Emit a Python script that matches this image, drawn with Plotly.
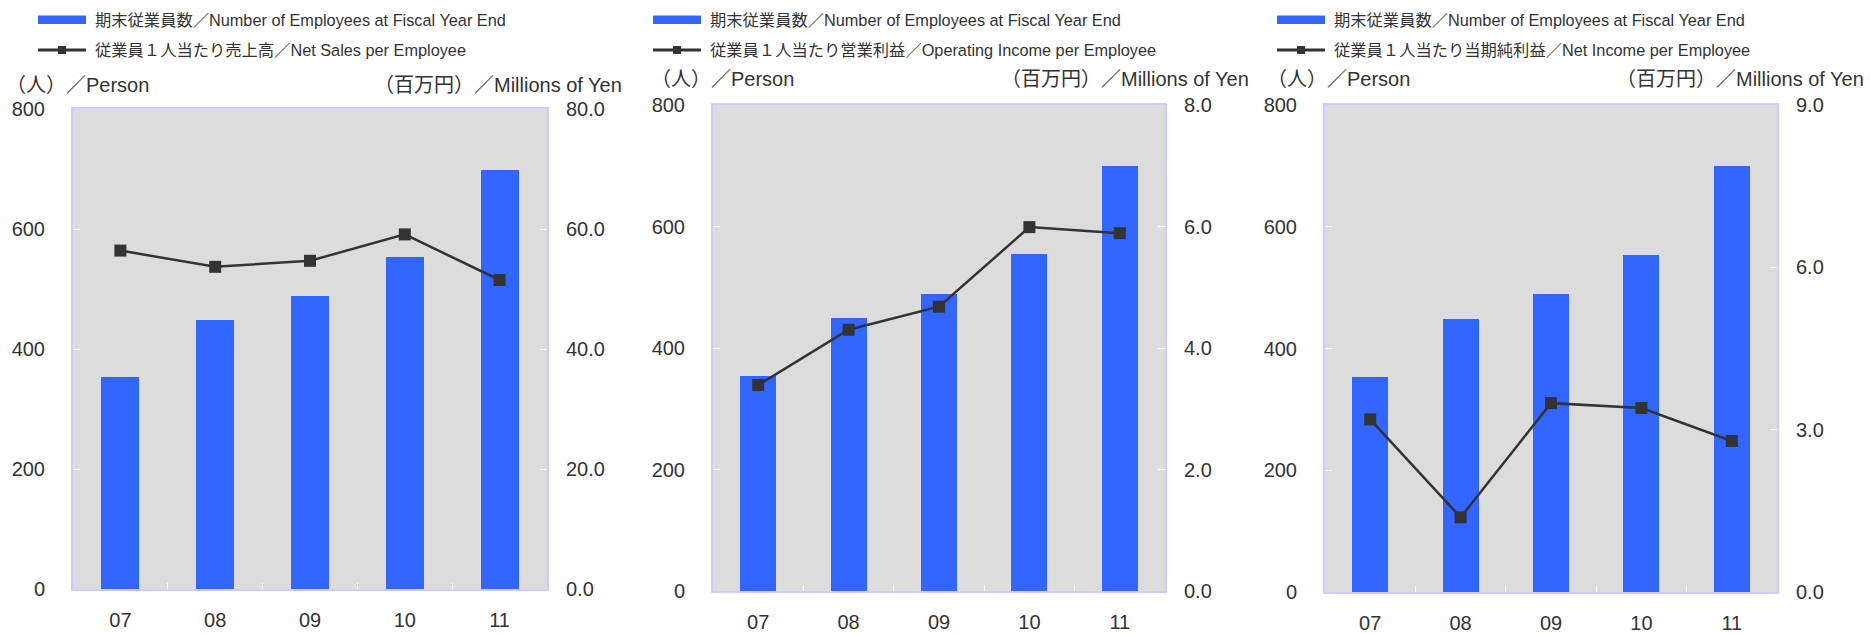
import plotly.graph_objects as go

years = ["07", "08", "09", "10", "11"]
employees = [354, 449, 489, 554, 699]
net_sales_per_employee = [56.4, 53.7, 54.7, 59.1, 51.5]
operating_income_per_employee = [3.39, 4.30, 4.68, 5.99, 5.89]
net_income_per_employee = [3.19, 1.38, 3.49, 3.40, 2.79]

bar_label = "期末従業員数／Number of Employees at Fiscal Year End"
line_labels = [
    "従業員１人当たり売上高／Net Sales per Employee",
    "従業員１人当たり営業利益／Operating Income per Employee",
    "従業員１人当たり当期純利益／Net Income per Employee",
]
line_series = [net_sales_per_employee, operating_income_per_employee, net_income_per_employee]
right_max = [80, 8, 9]
right_step = [20, 2, 3]
left_title = "（人）／Person"
right_title = "（百万円）／Millions of Yen"

W, H = 1870, 634
BLUE = "#3366FF"
INK = "#333333"
FRAME = "#CCCCFF"
FONT = "Liberation Sans, Arial, Noto Sans CJK JP, sans-serif"

# pixel layout of each panel
panels = [
    dict(x0=73, x1=547, top=109, bottom=589, legend_x=38, title_y=85, lt_x=4, rt_x=624),
    dict(x0=713, x1=1165, top=105, bottom=591, legend_x=653, title_y=79, lt_x=649, rt_x=1251),
    dict(x0=1325, x1=1777, top=105, bottom=592, legend_x=1277, title_y=79, lt_x=1265, rt_x=1866),
]


def px(x):
    return x / W


def py(y):
    return 1 - y / H


fig = go.Figure()
shapes = []
annotations = []

for i, p in enumerate(panels):
    n = i + 1
    xa = "x" if n == 1 else f"x{n}"
    yl = 2 * i + 1
    yr = 2 * i + 2
    yl_name = "y" if yl == 1 else f"y{yl}"
    yr_name = f"y{yr}"

    fig.add_trace(go.Bar(
        x=years, y=employees, xaxis=xa, yaxis=yl_name, width=0.4,
        marker=dict(color=BLUE, line=dict(width=0)), showlegend=False,
    ))
    fig.add_trace(go.Scatter(
        x=years, y=line_series[i], xaxis=xa, yaxis=yr_name, mode="lines+markers",
        line=dict(color=INK, width=2.5),
        marker=dict(symbol="square", size=12, color=INK), showlegend=False,
    ))

    xdom = [px(p["x0"]), px(p["x1"])]
    ydom = [py(p["bottom"]), py(p["top"])]
    fig.update_layout(**{
        ("xaxis" if n == 1 else f"xaxis{n}"): dict(
            domain=xdom, anchor=yl_name, type="category", range=[-0.5, 4.5],
            showline=True, linecolor=FRAME, linewidth=2, mirror=True,
            ticks="inside", tickson="boundaries", tickcolor="white", ticklen=6,
            showgrid=False, tickfont=dict(size=20, color=INK), ticklabelstandoff=12,
            automargin=False,
        ),
        ("yaxis" if yl == 1 else f"yaxis{yl}"): dict(
            domain=ydom, anchor=xa, range=[0, 800], dtick=200,
            showline=True, linecolor=FRAME, linewidth=2, mirror=True,
            ticks="inside", tickcolor="white", ticklen=7, showgrid=False, zeroline=False,
            tickfont=dict(size=20, color=INK), ticklabelstandoff=22, automargin=False,
        ),
        f"yaxis{yr}": dict(
            domain=ydom, anchor=xa, overlaying=yl_name, side="right",
            range=[0, right_max[i]], dtick=right_step[i], tickformat=".1f",
            ticks="inside", tickcolor="white", ticklen=7, showgrid=False, zeroline=False,
            showline=False, tickfont=dict(size=20, color=INK), ticklabelstandoff=18,
            automargin=False,
        ),
    })

    # legend keys
    lx = p["legend_x"]
    shapes.append(dict(type="rect", xref="paper", yref="paper",
                       x0=px(lx), x1=px(lx + 48), y0=py(24), y1=py(15.5),
                       fillcolor=BLUE, line=dict(width=0)))
    shapes.append(dict(type="line", xref="paper", yref="paper",
                       x0=px(lx), x1=px(lx + 48), y0=py(50), y1=py(50),
                       line=dict(color=INK, width=3)))
    shapes.append(dict(type="rect", xref="paper", yref="paper",
                       x0=px(lx + 20), x1=px(lx + 28), y0=py(54), y1=py(46),
                       fillcolor=INK, line=dict(width=0)))
    annotations.append(dict(text=bar_label, x=px(lx + 55), y=py(20), xref="paper", yref="paper",
                            xanchor="left", yanchor="middle", showarrow=False,
                            font=dict(size=16.3, color=INK)))
    annotations.append(dict(text=line_labels[i], x=px(lx + 55), y=py(50), xref="paper", yref="paper",
                            xanchor="left", yanchor="middle", showarrow=False,
                            font=dict(size=16.3, color=INK)))
    # axis titles
    annotations.append(dict(text=left_title, x=px(p["lt_x"]), y=py(p["title_y"]), xref="paper", yref="paper",
                            xanchor="left", yanchor="middle", showarrow=False,
                            font=dict(size=20, color=INK)))
    annotations.append(dict(text=right_title, x=px(p["rt_x"]), y=py(p["title_y"]), xref="paper", yref="paper",
                            xanchor="right", yanchor="middle", showarrow=False,
                            font=dict(size=20, color=INK)))

fig.update_layout(
    width=W, height=H, margin=dict(l=0, r=0, t=0, b=0, pad=0),
    paper_bgcolor="white", plot_bgcolor="#DCDCDC",
    font=dict(family=FONT, color=INK),
    bargap=0, showlegend=False,
    shapes=shapes, annotations=annotations,
)

fig.write_html("out.html", config={"displayModeBar": False},
               post_script="document.body.style.margin='0';")
